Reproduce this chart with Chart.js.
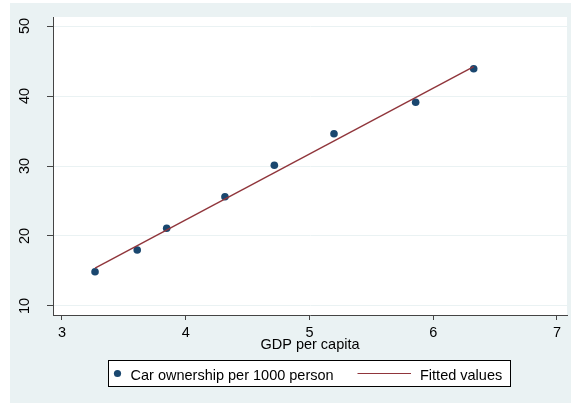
<!DOCTYPE html>
<html>
<head>
<meta charset="utf-8">
<script src="https://cdn.jsdelivr.net/npm/chart.js@4"></script>
<style>
html,body{margin:0;padding:0;background:#fff;}
#wrap{width:571px;height:403px;position:relative;}
</style>
</head>
<body>
<div id="wrap"><canvas id="c" width="571" height="403"></canvas></div>
<script>
// Data
const gdpPerCapita = [3.267, 3.608, 3.846, 4.317, 4.716, 5.198, 5.858, 6.327];
const carOwnership = [14.9, 18.0, 21.1, 25.6, 30.1, 34.6, 39.1, 43.9];
const fittedX = [3.267, 6.327];
const fittedY = [15.4, 44.2];
const xTicks = [3, 4, 5, 6, 7];
const yTicks = [10, 20, 30, 40, 50];
const seriesLabels = ["Car ownership per 1000 person", "Fitted values"];
const xTitle = "GDP per capita";

const FONT = "'Liberation Sans', Arial, sans-serif";
const FS = 14.5;
const NAVY = "#1a476f";
const MAROON = "#90353b";
const BG = "#eaf2f3";
const AXIS = "#444";

const bgPlugin = {
  id: 'bg',
  beforeDraw(chart) {
    const {ctx, chartArea: a} = chart;
    ctx.save();
    ctx.fillStyle = '#fff';
    ctx.fillRect(0, 0, chart.width, chart.height);
    ctx.fillStyle = BG;
    ctx.fillRect(10, 3, chart.width - 10, chart.height - 3);
    ctx.fillStyle = '#fff';
    ctx.fillRect(a.left, a.top, a.right - a.left, a.bottom - a.top);
    ctx.restore();
  },
  afterDraw(chart) {
    const {ctx} = chart;
    const ys = chart.scales.y;
    ctx.save();
    // rotated y tick labels
    ctx.fillStyle = '#000';
    ctx.font = FS + 'px ' + FONT;
    ctx.textAlign = 'center';
    ctx.textBaseline = 'alphabetic';
    ys.ticks.forEach(t => {
      const p = ys.getPixelForValue(t.value);
      ctx.save();
      ctx.translate(28.5, p);
      ctx.rotate(-Math.PI / 2);
      ctx.fillText(String(t.value), 0, 0);
      ctx.restore();
    });
    // legend
    const ds = chart.data.datasets;
    ctx.fillStyle = '#fff';
    ctx.fillRect(108.5, 360.5, 402, 26);
    ctx.strokeStyle = '#000';
    ctx.lineWidth = 1;
    ctx.strokeRect(108.5, 360.5, 402, 26);
    ctx.fillStyle = ds[0].backgroundColor;
    ctx.beginPath();
    ctx.arc(117.5, 373.5, 3.6, 0, Math.PI * 2);
    ctx.fill();
    ctx.fillStyle = '#000';
    ctx.textAlign = 'left';
    ctx.fillText(ds[0].label, 130.5, 379.5);
    ctx.strokeStyle = ds[1].borderColor;
    ctx.lineWidth = 1.2;
    ctx.beginPath();
    ctx.moveTo(357.5, 373.5);
    ctx.lineTo(411, 373.5);
    ctx.stroke();
    ctx.fillStyle = '#000';
    ctx.fillText(ds[1].label, 420, 379.5);
    ctx.restore();
  }
};

new Chart(document.getElementById('c'), {
  type: 'scatter',
  data: {
    datasets: [
      {
        label: seriesLabels[0],
        data: gdpPerCapita.map((x, i) => ({x, y: carOwnership[i]})),
        backgroundColor: NAVY,
        borderColor: NAVY,
        pointRadius: 3.8,
        pointBorderWidth: 0,
        order: 1
      },
      {
        label: seriesLabels[1],
        type: 'line',
        data: fittedX.map((x, i) => ({x, y: fittedY[i]})),
        borderColor: MAROON,
        backgroundColor: MAROON,
        borderWidth: 1.4,
        pointRadius: 0,
        fill: false,
        showLine: true,
        order: 0
      }
    ]
  },
  options: {
    responsive: false,
    animation: false,
    events: [],
    layout: {padding: {left: 0, right: 4, top: 17, bottom: 48}},
    plugins: {legend: {display: false}, tooltip: {enabled: false}},
    scales: {
      x: {
        type: 'linear',
        min: 2.9273,
        max: 7.081,
        afterBuildTicks: s => { s.ticks = xTicks.map(v => ({value: v})); },
        afterFit: s => { s.height = 40; },
        grid: {color: 'rgba(0,0,0,0)', drawTicks: true, tickLength: 5, tickColor: AXIS, tickWidth: 1},
        border: {display: true, color: AXIS, width: 1},
        ticks: {color: '#000', font: {family: FONT, size: FS}, padding: 4, maxRotation: 0, minRotation: 0},
        title: {display: true, text: xTitle, color: '#000', font: {family: FONT, size: FS}, padding: {top: 0, bottom: 1}}
      },
      y: {
        type: 'linear',
        min: 8.714,
        max: 51.286,
        afterBuildTicks: s => { s.ticks = yTicks.map(v => ({value: v})); },
        afterFit: s => { s.width = 53; },
        grid: {color: BG, lineWidth: 1, drawTicks: true, tickLength: 6, tickColor: AXIS, tickWidth: 1},
        border: {display: true, color: AXIS, width: 1},
        ticks: {color: 'rgba(0,0,0,0)', font: {family: FONT, size: FS}}
      }
    }
  },
  plugins: [bgPlugin]
});
</script>
</body>
</html>
